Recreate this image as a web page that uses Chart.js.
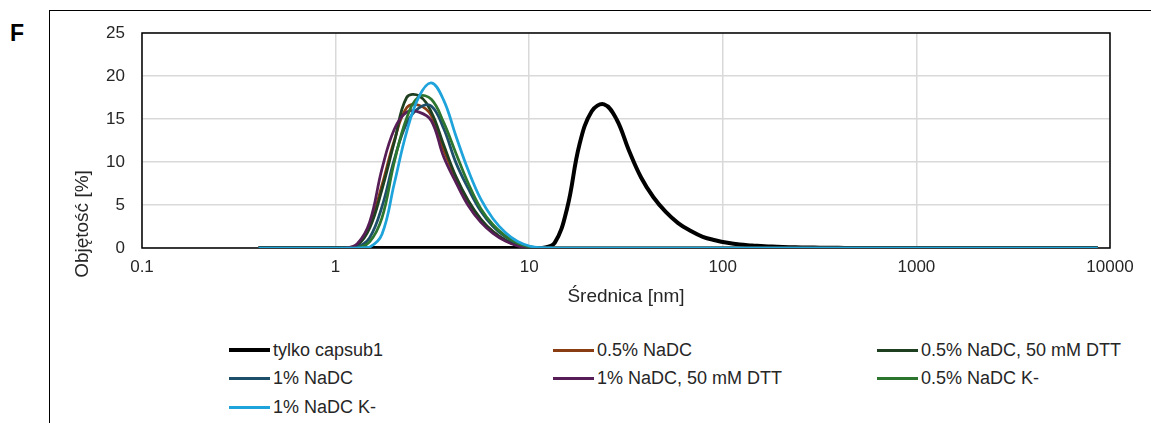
<!DOCTYPE html>
<html>
<head>
<meta charset="utf-8">
<title>Objętość - rozkład średnicy</title>
<script src="https://cdn.jsdelivr.net/npm/chart.js@4"></script>
<style>
  body { margin: 0; width: 1151px; height: 423px; overflow: hidden; background: #fff; position: relative;
         font-family: "Liberation Sans", Arial, sans-serif; color: #262626; }
  #frame { position: absolute; left: 49px; top: 10px; width: 1200px; height: 500px;
           border-left: 1px solid #000; border-top: 1px solid #000; }
  #panel { position: absolute; left: 10px; top: 22px; font-size: 23px; line-height: 23px; font-weight: bold; color: #000; }
  #chart { position: absolute; left: 0; top: 0; }
  #legend { position: absolute; left: 229px; top: 336px; display: grid;
            grid-template-columns: 324px 324px 324px; grid-auto-rows: 28.5px; }
  .item { display: flex; align-items: center; font-size: 18px; white-space: nowrap; }
  .swatch { width: 41px; margin-right: 3px; }
</style>
</head>
<body>
<div id="frame"></div>
<div id="panel">F</div>
<canvas id="chart" width="1151" height="320"></canvas>
<div id="legend"></div>

<script>
// hydrodynamic diameter bins [nm]
const sizes = [
  0.4, 0.4632, 0.5365, 0.6213, 0.7195, 0.8332, 0.9649, 1.117, 1.294, 1.499,
  1.736, 2.01, 2.328, 2.696, 3.122, 3.615, 4.187, 4.849, 5.615, 6.503,
  7.531, 8.721, 10.1, 11.7, 13.54, 15.69, 18.17, 21.04, 24.36, 28.21,
  32.67, 37.84, 43.82, 50.75, 58.77, 68.06, 78.82, 91.28, 105.7, 122.4,
  141.8, 164.2, 190.1, 220.2, 255, 295.3, 342, 396.1, 458.7, 531.2,
  615.1, 712.4, 825, 955.4, 1106, 1281, 1484, 1718, 1990, 2305,
  2669, 3091, 3580, 4145, 4801, 5560, 6439, 7456, 8635
];

// volume [%] per bin
const capsub1 = [
  0, 0, 0, 0, 0, 0, 0, 0, 0, 0, 0, 0, 0, 0, 0,
  0, 0, 0, 0, 0, 0, 0, 0,
  0, 0.6, 4.6, 12.0, 15.9, 16.7, 15.0, 11.4, 8.2, 5.9, 4.2, 2.9, 2.0, 1.3, 0.9,
  0.6, 0.4, 0.3, 0.2, 0.15, 0.1, 0.07, 0.05, 0.03, 0.02,
  0, 0, 0, 0, 0, 0, 0, 0, 0, 0, 0, 0, 0, 0, 0,
  0, 0, 0, 0, 0, 0
];
const nadc05 = [
  0, 0, 0, 0, 0, 0, 0,
  0, 0.35, 2.6, 7.3, 12.5, 16.3, 16.6, 15.4, 11.4, 8.1, 5.4, 3.3, 1.9, 0.9, 0.3, 0.05, 0,
  0, 0, 0, 0, 0, 0, 0, 0, 0, 0, 0, 0, 0, 0, 0,
  0, 0, 0, 0, 0, 0, 0, 0, 0, 0, 0, 0, 0, 0, 0,
  0, 0, 0, 0, 0, 0, 0, 0, 0, 0, 0, 0, 0, 0, 0
];
const nadc05dtt = [
  0, 0, 0, 0, 0, 0, 0,
  0, 0.3, 2.3, 6.8, 12.3, 17.5, 17.7, 15.8, 12.0, 8.3, 5.5, 3.4, 1.9, 0.9, 0.3, 0.05, 0,
  0, 0, 0, 0, 0, 0, 0, 0, 0, 0, 0, 0, 0, 0, 0,
  0, 0, 0, 0, 0, 0, 0, 0, 0, 0, 0, 0, 0, 0, 0,
  0, 0, 0, 0, 0, 0, 0, 0, 0, 0, 0, 0, 0, 0, 0
];
const nadc1 = [
  0, 0, 0, 0, 0, 0, 0,
  0, 0.1, 1.2, 4.8, 10.3, 14.5, 16.3, 16.5, 13.9, 9.9, 6.9, 4.3, 2.5, 1.3, 0.5, 0.1, 0,
  0, 0, 0, 0, 0, 0, 0, 0, 0, 0, 0, 0, 0, 0, 0,
  0, 0, 0, 0, 0, 0, 0, 0, 0, 0, 0, 0, 0, 0, 0,
  0, 0, 0, 0, 0, 0, 0, 0, 0, 0, 0, 0, 0, 0, 0
];
const nadc1dtt = [
  0, 0, 0, 0, 0, 0, 0,
  0, 0.5, 3.0, 9.2, 13.8, 15.8, 15.8, 14.8, 10.6, 7.6, 4.9, 3.0, 1.7, 0.8, 0.25, 0.05, 0,
  0, 0, 0, 0, 0, 0, 0, 0, 0, 0, 0, 0, 0, 0, 0,
  0, 0, 0, 0, 0, 0, 0, 0, 0, 0, 0, 0, 0, 0, 0,
  0, 0, 0, 0, 0, 0, 0, 0, 0, 0, 0, 0, 0, 0, 0
];
const nadc05k = [
  0, 0, 0, 0, 0, 0, 0,
  0, 0, 0.7, 3.5, 10.0, 15.1, 17.6, 17.3, 14.6, 11.0, 7.5, 4.6, 2.7, 1.4, 0.55, 0.12, 0,
  0, 0, 0, 0, 0, 0, 0, 0, 0, 0, 0, 0, 0, 0, 0,
  0, 0, 0, 0, 0, 0, 0, 0, 0, 0, 0, 0, 0, 0, 0,
  0, 0, 0, 0, 0, 0, 0, 0, 0, 0, 0, 0, 0, 0, 0
];
const nadc1k = [
  0, 0, 0, 0, 0, 0, 0,
  0, 0, 0.1, 1.6, 7.5, 13.5, 17.6, 19.2, 17.2, 13.0, 9.0, 5.7, 3.4, 1.8, 0.75, 0.2, 0.03,
  0, 0, 0, 0, 0, 0, 0, 0, 0, 0, 0, 0, 0, 0, 0,
  0, 0, 0, 0, 0, 0, 0, 0, 0, 0, 0, 0, 0, 0, 0,
  0, 0, 0, 0, 0, 0, 0, 0, 0, 0, 0, 0, 0, 0, 0
];

const seriesNames = ["tylko capsub1", "0.5% NaDC", "0.5% NaDC, 50 mM DTT", "1% NaDC",
  "1% NaDC, 50 mM DTT", "0.5% NaDC K-", "1% NaDC K-"];
const seriesValues = [capsub1, nadc05, nadc05dtt, nadc1, nadc1dtt, nadc05k, nadc1k];
const seriesColors = ["#000000", "#8a3d12", "#1e3f20", "#1d4f6a", "#561d56", "#2c752f", "#1ea3db"];
const seriesWidths = [4, 2.75, 2.75, 2.75, 2.75, 2.75, 2.75];

const xTickValues = [0.1, 1, 10, 100, 1000, 10000];
const xTickLabels = ["0.1", "1", "10", "100", "1000", "10000"];
const xTitle = "Średnica [nm]";
const yTitle = "Objętość [%]";

const textColor = "#262626";
const fontFamily = '"Liberation Sans", Arial, sans-serif';

const datasets = seriesNames.map(function(name, i){
  return {
    label: name,
    data: sizes.map(function(d, j){ return {x: d, y: seriesValues[i][j]}; }),
    borderColor: seriesColors[i],
    backgroundColor: seriesColors[i],
    borderWidth: seriesWidths[i],
    borderJoinStyle: "round",
    pointRadius: 0,
    tension: 0.4,
    fill: false,
    order: seriesNames.length - 1 - i   // last series ends up on top
  };
});

// black frame around the plot area
const plotBorder = {
  id: "plotBorder",
  beforeDatasetsDraw(chart){
    const ctx = chart.ctx, a = chart.chartArea;
    ctx.save();
    ctx.strokeStyle = "#000";
    ctx.lineWidth = 1.5;
    ctx.strokeRect(a.left, a.top, a.right - a.left, a.bottom - a.top);
    ctx.restore();
  }
};

// y title sits lower than the axis middle
const yTitlePlugin = {
  id: "yTitle",
  afterDraw(chart){
    const ctx = chart.ctx;
    ctx.save();
    ctx.translate(83, 224);
    ctx.rotate(-Math.PI / 2);
    ctx.font = "19px " + fontFamily;
    ctx.fillStyle = textColor;
    ctx.textAlign = "center";
    ctx.textBaseline = "middle";
    ctx.fillText(yTitle, 0, 0);
    ctx.restore();
  }
};

const chart = new Chart(document.getElementById("chart"), {
  type: "line",
  data: { datasets: datasets },
  options: {
    responsive: false,
    animation: false,
    layout: { padding: { left: 60, right: 41, top: 33, bottom: 0 } },
    plugins: {
      legend: { display: false },
      tooltip: { enabled: false }
    },
    scales: {
      x: {
        type: "logarithmic",
        min: 0.1,
        max: 10000,
        afterBuildTicks: function(axis){
          axis.ticks = xTickValues.map(function(v){ return {value: v}; });
        },
        afterFit: function(axis){ axis.height = 72; },
        ticks: {
          autoSkip: false,
          maxRotation: 0,
          padding: 9,
          color: textColor,
          font: { family: fontFamily, size: 17 },
          callback: function(value){ return xTickLabels[xTickValues.indexOf(value)]; }
        },
        grid: { color: "#d9d9d9", lineWidth: 1.5, drawTicks: false },
        border: { display: false },
        title: {
          display: true,
          text: xTitle,
          color: textColor,
          font: { family: fontFamily, size: 19 },
          padding: { top: 0, bottom: 12 }
        }
      },
      y: {
        min: 0,
        max: 25,
        afterFit: function(axis){ axis.width = 82; },
        ticks: {
          stepSize: 5,
          padding: 17,
          color: textColor,
          font: { family: fontFamily, size: 17 }
        },
        grid: { color: "#d9d9d9", lineWidth: 1.5, drawTicks: false },
        border: { display: false }
      }
    }
  },
  plugins: [plotBorder, yTitlePlugin]
});

// legend in three columns under the chart
const legendBox = document.getElementById("legend");
chart.data.datasets.forEach(function(ds){
  const item = document.createElement("div");
  item.className = "item";
  const swatch = document.createElement("span");
  swatch.className = "swatch";
  swatch.style.height = ds.borderWidth + "px";
  swatch.style.background = ds.borderColor;
  const text = document.createElement("span");
  text.textContent = ds.label;
  item.appendChild(swatch);
  item.appendChild(text);
  legendBox.appendChild(item);
});
</script>
</body>
</html>
